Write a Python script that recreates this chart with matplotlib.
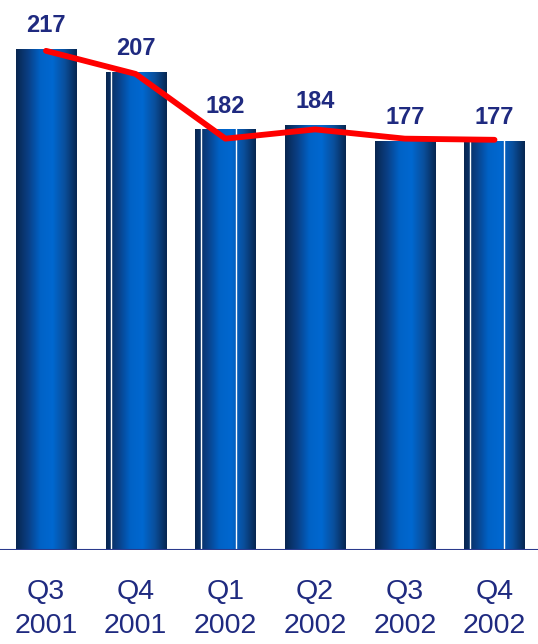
import numpy as np
import matplotlib.pyplot as plt
from matplotlib.colors import LinearSegmentedColormap

# données
quarters = ["Q3\n2001", "Q4\n2001", "Q1\n2002", "Q2\n2002", "Q3\n2002", "Q4\n2002"]
bar_values = [217, 207, 182, 184, 177, 177]
line_values = [216, 206, 178, 182, 178, 177.5]

navy = "#1F2A80"
cmap = LinearSegmentedColormap.from_list(
    "cyl", ["#08264f", "#0a3f85", "#0062c6", "#0068d0", "#0a4f9c", "#072650"])

fig = plt.figure(figsize=(5.38, 6.44), dpi=100)
ax = fig.add_axes([0, 1 - 550 / 644, 1, 550 / 644])

x = np.arange(len(bar_values))
width = 0.67
grad = np.linspace(0, 1, 256).reshape(1, -1)

bars = ax.bar(x, bar_values, width=width, color="none", edgecolor="none")
for b in bars:
    im = ax.imshow(grad, cmap=cmap, aspect="auto", zorder=2,
                   extent=[b.get_x(), b.get_x() + b.get_width(), 0, b.get_height()])
    im.set_clip_path(b)

# petits traits blancs visibles sur certaines barres
white_marks = {1: [0.085], 2: [0.09, 0.67], 5: [0.085, 0.66]}
for i, fracs in white_marks.items():
    b = bars[i]
    for f in fracs:
        xx = b.get_x() + f * b.get_width()
        ax.plot([xx, xx], [0, b.get_height()], color="white", lw=1.0, zorder=3)

# ligne rouge
ax.plot(x, line_values, color="#ff0000", linewidth=4.2, zorder=4,
        solid_capstyle="round", solid_joinstyle="round")

# étiquettes des valeurs
for xi, v in zip(x, bar_values):
    ax.annotate(str(v), (xi, v), xytext=(0, 8.5), textcoords="offset points",
                ha="center", va="bottom", fontsize=17, fontweight="bold",
                color=navy, family="Liberation Sans", zorder=5)

ax.set_xlim(-0.513, 5.485)
ax.set_ylim(0, 238)
ax.axhline(0, color="#2a3a8c", linewidth=1.5, zorder=3)

for s in ax.spines.values():
    s.set_visible(False)
ax.set_yticks([])
ax.set_xticks(x)
ax.set_xticklabels(quarters, fontsize=20.5, color=navy, family="Liberation Sans",
                   linespacing=1.38)
ax.tick_params(axis="x", length=0, pad=21)

fig.savefig("out.png", dpi=100)
